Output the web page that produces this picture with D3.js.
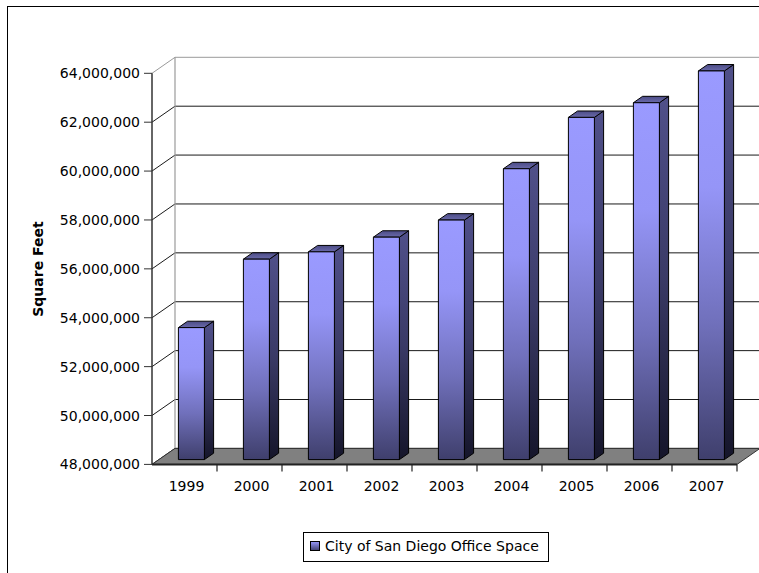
<!DOCTYPE html>
<html>
<head>
<meta charset="utf-8">
<script src="https://cdn.jsdelivr.net/npm/d3@7"></script>
<style>
  html, body { margin: 0; padding: 0; background: #fff; }
  svg { display: block; font-family: "DejaVu Sans", sans-serif; }
</style>
</head>
<body>
<svg id="chart" width="759" height="573"></svg>
<script>
// Office inventory, City of San Diego (square feet)
const years = ["1999", "2000", "2001", "2002", "2003", "2004", "2005", "2006", "2007"];
const officeSpace = [53400000, 56200000, 56500000, 57100000, 57800000, 59900000, 62000000, 62600000, 63900000];
const yTicks = [48000000, 50000000, 52000000, 54000000, 56000000, 58000000, 60000000, 62000000, 64000000];
const seriesName = "City of San Diego Office Space";
const yTitle = "Square Feet";

const svg = d3.select("#chart");

// outer chart frame
svg.append("rect")
  .attr("x", 7.5).attr("y", 6.5)
  .attr("width", 800).attr("height", 600)
  .attr("fill", "#fff").attr("stroke", "#000").attr("stroke-width", 1);

// projection: front plane plus an oblique depth offset
const depthX = 23, depthY = -16;
const x = d3.scaleBand().domain(years).range([152, 737]).paddingInner(0).paddingOuter(0);
const y = d3.scaleLinear().domain([48000000, 64000000]).range([464.4, 73.3]);
const fmt = d3.format(",");

const defs = svg.append("defs");
function grad(id, stops) {
  const g = defs.append("linearGradient").attr("id", id)
    .attr("x1", 0).attr("y1", 0).attr("x2", 0).attr("y2", 1);
  stops.forEach(([o, c]) => g.append("stop").attr("offset", o).attr("stop-color", c));
}
grad("frontGrad", [[0, "#9a9aff"], [0.3, "#9595f7"], [0.65, "#7070bb"], [1, "#3f3f6c"]]);
grad("sideGrad", [[0, "#50508a"], [0.5, "#3a3a66"], [1, "#15152a"]]);
grad("topGrad", [[0, "#4c4c86"], [1, "#6a6aaa"]]);
grad("legendGrad", [[0, "#9a9aff"], [1, "#40406e"]]);

const bx = 152, ex = 737;
const ybot = y(48000000);

// back wall and left side wall grid
const wall = svg.append("g");
yTicks.forEach((t, i) => {
  const yy = y(t);
  const top = i === yTicks.length - 1;
  wall.append("line")
    .attr("x1", bx + depthX).attr("y1", yy + depthY)
    .attr("x2", ex + depthX).attr("y2", yy + depthY)
    .attr("stroke", top ? "#9a9a9a" : "#1a1a1a").attr("stroke-width", 1);
  wall.append("line")
    .attr("x1", bx).attr("y1", yy)
    .attr("x2", bx + depthX).attr("y2", yy + depthY)
    .attr("stroke", top ? "#9a9a9a" : "#1a1a1a").attr("stroke-width", 1);
});
wall.append("line")
  .attr("x1", bx + depthX).attr("y1", y(64000000) + depthY)
  .attr("x2", bx + depthX).attr("y2", ybot + depthY)
  .attr("stroke", "#9a9a9a").attr("stroke-width", 1.2);

// floor
const floorPts = [[bx, ybot], [ex, ybot], [ex + depthX, ybot + depthY], [bx + depthX, ybot + depthY]];
svg.append("polygon")
  .attr("points", floorPts.map(p => p.join(",")).join(" "))
  .attr("fill", "#808080").attr("stroke", "#333").attr("stroke-width", 1);
svg.append("line")
  .attr("x1", bx).attr("y1", ybot).attr("x2", ex).attr("y2", ybot)
  .attr("stroke", "#222").attr("stroke-width", 2);

// bars
const dFront = 0.30, dBack = 0.70;
const barFrac = 0.40;
const bars = svg.append("g");
years.forEach((yr, i) => {
  const v = officeSpace[i];
  const bw = x.bandwidth() * barFrac;
  const x0 = x(yr) + (x.bandwidth() - bw) / 2 + depthX * dFront;
  const x1 = x0 + bw;
  const yT = y(v) + depthY * dFront;
  const yB = ybot + depthY * dFront;
  const ddx = depthX * (dBack - dFront), ddy = depthY * (dBack - dFront);
  const g = bars.append("g").attr("stroke", "#000").attr("stroke-width", 1).attr("stroke-linejoin", "round");
  // side face
  g.append("polygon")
    .attr("points", [[x1, yT], [x1 + ddx, yT + ddy], [x1 + ddx, yB + ddy], [x1, yB]].map(p => p.join(",")).join(" "))
    .attr("fill", "url(#sideGrad)");
  // top face
  g.append("polygon")
    .attr("points", [[x0, yT], [x0 + ddx, yT + ddy], [x1 + ddx, yT + ddy], [x1, yT]].map(p => p.join(",")).join(" "))
    .attr("fill", "url(#topGrad)");
  // front face
  g.append("rect")
    .attr("x", x0).attr("y", yT).attr("width", bw).attr("height", yB - yT)
    .attr("fill", "url(#frontGrad)");
});

// value axis
const ax = svg.append("g");
ax.append("line")
  .attr("x1", bx).attr("y1", y(64000000)).attr("x2", bx).attr("y2", ybot)
  .attr("stroke", "#333").attr("stroke-width", 1.5);
yTicks.forEach(t => {
  ax.append("line")
    .attr("x1", bx - 8).attr("y1", y(t)).attr("x2", bx).attr("y2", y(t))
    .attr("stroke", "#333").attr("stroke-width", 1);
  ax.append("text")
    .attr("x", 140).attr("y", y(t) + 5)
    .attr("text-anchor", "end").attr("font-size", 14).attr("fill", "#000")
    .text(fmt(t));
});

// category axis
years.forEach(yr => {
  ax.append("line")
    .attr("x1", x(yr) + x.bandwidth()).attr("y1", ybot)
    .attr("x2", x(yr) + x.bandwidth()).attr("y2", ybot + 7)
    .attr("stroke", "#222").attr("stroke-width", 1.2);
  ax.append("text")
    .attr("x", x(yr) + x.bandwidth() / 2 + 2).attr("y", 490.5)
    .attr("text-anchor", "middle").attr("font-size", 14).attr("fill", "#000")
    .text(yr);
});

// axis title
svg.append("text")
  .attr("transform", "translate(43,269) rotate(-90)")
  .attr("text-anchor", "middle").attr("font-size", 14).attr("font-weight", "bold")
  .text(yTitle);

// legend
const lg = svg.append("g");
lg.append("rect")
  .attr("x", 303.5).attr("y", 532.5).attr("width", 245).attr("height", 29)
  .attr("fill", "#fff").attr("stroke", "#000").attr("stroke-width", 1);
lg.append("rect")
  .attr("x", 310.5).attr("y", 541.5).attr("width", 9).attr("height", 9)
  .attr("fill", "url(#legendGrad)").attr("stroke", "#000").attr("stroke-width", 1);
lg.append("text")
  .attr("x", 325).attr("y", 551).attr("font-size", 14).attr("fill", "#000")
  .text(seriesName);
</script>
</body>
</html>
